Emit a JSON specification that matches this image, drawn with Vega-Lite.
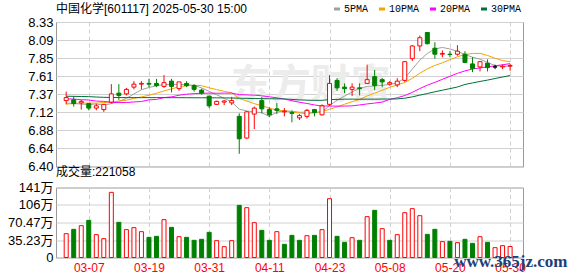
{
  "$schema": "https://vega.github.io/schema/vega-lite/v6.json",
  "padding": {"left": 5, "top": 2, "right": 5, "bottom": 0},
  "background": "#ffffff",
  "config": {
    "view": {"stroke": "#999999", "strokeWidth": 1},
    "font": "Liberation Sans, Noto Sans CJK SC",
    "axis": {"labelFont": "Liberation Sans, Noto Sans CJK SC", "labelFontSize": 13, "labelColor": "#000000", "domain": false, "ticks": false, "gridColor": "#d0d0d0", "gridWidth": 1, "title": null, "labelOverlap": false, "labelBound": false, "labelFlush": false, "tickCount": 30},
    "title": {"font": "Liberation Sans, Noto Sans CJK SC", "fontSize": 12, "fontWeight": "normal", "color": "#000000", "anchor": "start", "frame": "group"}
  },
  "datasets": {
    "one": [{"note": "watermark"}],
    "k": [
      {"i":0,"d":"03-04","o":7.28,"h":7.40,"l":7.23,"c":7.32,"v":48.0,"vd":"up","5PMA":7.247,"10PMA":7.234,"20PMA":7.304,"30PMA":7.338},
      {"i":1,"d":"03-05","o":7.29,"h":7.34,"l":7.20,"c":7.24,"v":56.7,"vd":"down","5PMA":7.241,"10PMA":7.241,"20PMA":7.300,"30PMA":7.337},
      {"i":2,"d":"03-06","o":7.25,"h":7.29,"l":7.16,"c":7.27,"v":64.1,"vd":"up","5PMA":7.234,"10PMA":7.247,"20PMA":7.292,"30PMA":7.335},
      {"i":3,"d":"03-07","o":7.24,"h":7.24,"l":7.15,"c":7.18,"v":74.8,"vd":"down","5PMA":7.227,"10PMA":7.247,"20PMA":7.288,"30PMA":7.333},
      {"i":4,"d":"03-10","o":7.18,"h":7.24,"l":7.15,"c":7.21,"v":46.0,"vd":"up","5PMA":7.235,"10PMA":7.247,"20PMA":7.274,"30PMA":7.328},
      {"i":5,"d":"03-11","o":7.16,"h":7.23,"l":7.13,"c":7.23,"v":37.9,"vd":"up","5PMA":7.218,"10PMA":7.254,"20PMA":7.270,"30PMA":7.324},
      {"i":6,"d":"03-12","o":7.26,"h":7.50,"l":7.24,"c":7.37,"v":131.2,"vd":"up","5PMA":7.240,"10PMA":7.261,"20PMA":7.258,"30PMA":7.322},
      {"i":7,"d":"03-13","o":7.38,"h":7.50,"l":7.29,"c":7.35,"v":70.8,"vd":"down","5PMA":7.268,"10PMA":7.274,"20PMA":7.254,"30PMA":7.321},
      {"i":8,"d":"03-14","o":7.37,"h":7.45,"l":7.35,"c":7.43,"v":56.1,"vd":"up","5PMA":7.310,"10PMA":7.285,"20PMA":7.254,"30PMA":7.320},
      {"i":9,"d":"03-17","o":7.46,"h":7.54,"l":7.43,"c":7.50,"v":60.1,"vd":"up","5PMA":7.370,"10PMA":7.310,"20PMA":7.262,"30PMA":7.320},
      {"i":10,"d":"03-18","o":7.50,"h":7.54,"l":7.43,"c":7.51,"v":52.0,"vd":"up","5PMA":7.425,"10PMA":7.329,"20PMA":7.268,"30PMA":7.320},
      {"i":11,"d":"03-19","o":7.51,"h":7.57,"l":7.46,"c":7.50,"v":40.6,"vd":"down","5PMA":7.455,"10PMA":7.352,"20PMA":7.290,"30PMA":7.320},
      {"i":12,"d":"03-20","o":7.51,"h":7.57,"l":7.46,"c":7.48,"v":42.6,"vd":"down","5PMA":7.478,"10PMA":7.378,"20PMA":7.296,"30PMA":7.320},
      {"i":13,"d":"03-21","o":7.47,"h":7.62,"l":7.45,"c":7.52,"v":76.2,"vd":"up","5PMA":7.495,"10PMA":7.410,"20PMA":7.320,"30PMA":7.320},
      {"i":14,"d":"03-24","o":7.54,"h":7.57,"l":7.39,"c":7.47,"v":60.7,"vd":"down","5PMA":7.494,"10PMA":7.436,"20PMA":7.330,"30PMA":7.319},
      {"i":15,"d":"03-25","o":7.44,"h":7.53,"l":7.41,"c":7.53,"v":41.9,"vd":"up","5PMA":7.497,"10PMA":7.466,"20PMA":7.352,"30PMA":7.319},
      {"i":16,"d":"03-26","o":7.51,"h":7.54,"l":7.46,"c":7.48,"v":40.6,"vd":"down","5PMA":7.492,"10PMA":7.477,"20PMA":7.366,"30PMA":7.319},
      {"i":17,"d":"03-27","o":7.48,"h":7.50,"l":7.40,"c":7.43,"v":34.6,"vd":"down","5PMA":7.483,"10PMA":7.485,"20PMA":7.373,"30PMA":7.318},
      {"i":18,"d":"03-28","o":7.42,"h":7.44,"l":7.36,"c":7.38,"v":36.6,"vd":"down","5PMA":7.450,"10PMA":7.480,"20PMA":7.378,"30PMA":7.318},
      {"i":19,"d":"03-31","o":7.34,"h":7.34,"l":7.18,"c":7.21,"v":50.7,"vd":"down","5PMA":7.404,"10PMA":7.451,"20PMA":7.380,"30PMA":7.318},
      {"i":20,"d":"04-01","o":7.23,"h":7.28,"l":7.22,"c":7.27,"v":33.9,"vd":"up","5PMA":7.358,"10PMA":7.427,"20PMA":7.378,"30PMA":7.317},
      {"i":21,"d":"04-02","o":7.26,"h":7.29,"l":7.22,"c":7.275,"v":21.8,"vd":"up","5PMA":7.310,"10PMA":7.404,"20PMA":7.380,"30PMA":7.316},
      {"i":22,"d":"04-03","o":7.25,"h":7.33,"l":7.22,"c":7.28,"v":33.9,"vd":"up","5PMA":7.262,"10PMA":7.384,"20PMA":7.380,"30PMA":7.315},
      {"i":23,"d":"04-07","o":7.07,"h":7.11,"l":6.57,"c":6.77,"v":105.0,"vd":"down","5PMA":7.166,"10PMA":7.309,"20PMA":7.360,"30PMA":7.312},
      {"i":24,"d":"04-08","o":6.78,"h":7.14,"l":6.77,"c":7.13,"v":100.3,"vd":"up","5PMA":7.142,"10PMA":7.275,"20PMA":7.356,"30PMA":7.310},
      {"i":25,"d":"04-09","o":7.10,"h":7.20,"l":6.90,"c":7.18,"v":70.1,"vd":"up","5PMA":7.130,"10PMA":7.240,"20PMA":7.353,"30PMA":7.308},
      {"i":26,"d":"04-10","o":7.28,"h":7.33,"l":7.11,"c":7.17,"v":54.7,"vd":"down","5PMA":7.117,"10PMA":7.211,"20PMA":7.344,"30PMA":7.306},
      {"i":27,"d":"04-11","o":7.16,"h":7.19,"l":7.06,"c":7.09,"v":34.6,"vd":"down","5PMA":7.069,"10PMA":7.180,"20PMA":7.331,"30PMA":7.305},
      {"i":28,"d":"04-14","o":7.17,"h":7.25,"l":7.10,"c":7.15,"v":52.0,"vd":"up","5PMA":7.127,"10PMA":7.154,"20PMA":7.317,"30PMA":7.304},
      {"i":29,"d":"04-15","o":7.13,"h":7.18,"l":7.07,"c":7.14,"v":26.5,"vd":"down","5PMA":7.142,"10PMA":7.145,"20PMA":7.300,"30PMA":7.303},
      {"i":30,"d":"04-16","o":7.12,"h":7.15,"l":6.99,"c":7.11,"v":44.6,"vd":"down","5PMA":7.137,"10PMA":7.130,"20PMA":7.279,"30PMA":7.296},
      {"i":31,"d":"04-17","o":7.05,"h":7.10,"l":7.02,"c":7.08,"v":34.6,"vd":"down","5PMA":7.124,"10PMA":7.115,"20PMA":7.258,"30PMA":7.290},
      {"i":32,"d":"04-18","o":7.07,"h":7.17,"l":7.04,"c":7.15,"v":43.9,"vd":"up","5PMA":7.126,"10PMA":7.105,"20PMA":7.242,"30PMA":7.286},
      {"i":33,"d":"04-21","o":7.16,"h":7.17,"l":7.07,"c":7.12,"v":44.6,"vd":"down","5PMA":7.118,"10PMA":7.120,"20PMA":7.222,"30PMA":7.284},
      {"i":34,"d":"04-22","o":7.09,"h":7.23,"l":7.08,"c":7.21,"v":56.0,"vd":"up","5PMA":7.127,"10PMA":7.135,"20PMA":7.209,"30PMA":7.284},
      {"i":35,"d":"04-23","o":7.23,"h":7.62,"l":7.21,"c":7.51,"v":118.4,"vd":"up","5PMA":7.214,"10PMA":7.165,"20PMA":7.208,"30PMA":7.294},
      {"i":36,"d":"04-24","o":7.55,"h":7.58,"l":7.41,"c":7.45,"v":42.6,"vd":"down","5PMA":7.285,"10PMA":7.195,"20PMA":7.206,"30PMA":7.296},
      {"i":37,"d":"04-25","o":7.46,"h":7.51,"l":7.38,"c":7.44,"v":30.5,"vd":"down","5PMA":7.340,"10PMA":7.232,"20PMA":7.207,"30PMA":7.299},
      {"i":38,"d":"04-28","o":7.43,"h":7.51,"l":7.34,"c":7.46,"v":39.9,"vd":"up","5PMA":7.395,"10PMA":7.265,"20PMA":7.210,"30PMA":7.300},
      {"i":39,"d":"04-29","o":7.45,"h":7.51,"l":7.35,"c":7.44,"v":34.6,"vd":"down","5PMA":7.445,"10PMA":7.297,"20PMA":7.222,"30PMA":7.298},
      {"i":40,"d":"04-30","o":7.51,"h":7.76,"l":7.51,"c":7.56,"v":82.2,"vd":"up","5PMA":7.470,"10PMA":7.342,"20PMA":7.236,"30PMA":7.300},
      {"i":41,"d":"05-06","o":7.60,"h":7.69,"l":7.42,"c":7.48,"v":95.0,"vd":"down","5PMA":7.475,"10PMA":7.380,"20PMA":7.247,"30PMA":7.299},
      {"i":42,"d":"05-07","o":7.56,"h":7.58,"l":7.46,"c":7.53,"v":58.0,"vd":"up","5PMA":7.484,"10PMA":7.418,"20PMA":7.260,"30PMA":7.301},
      {"i":43,"d":"05-08","o":7.50,"h":7.54,"l":7.48,"c":7.52,"v":34.6,"vd":"down","5PMA":7.495,"10PMA":7.458,"20PMA":7.297,"30PMA":7.301},
      {"i":44,"d":"05-09","o":7.49,"h":7.58,"l":7.46,"c":7.54,"v":46.0,"vd":"up","5PMA":7.518,"10PMA":7.490,"20PMA":7.318,"30PMA":7.303},
      {"i":45,"d":"05-12","o":7.55,"h":7.81,"l":7.53,"c":7.80,"v":90.2,"vd":"up","5PMA":7.580,"10PMA":7.522,"20PMA":7.348,"30PMA":7.312},
      {"i":46,"d":"05-13","o":7.84,"h":8.02,"l":7.81,"c":8.01,"v":98.3,"vd":"up","5PMA":7.700,"10PMA":7.578,"20PMA":7.390,"30PMA":7.330},
      {"i":47,"d":"05-14","o":8.01,"h":8.15,"l":7.94,"c":8.12,"v":84.2,"vd":"up","5PMA":7.820,"10PMA":7.646,"20PMA":7.441,"30PMA":7.353},
      {"i":48,"d":"05-15","o":8.19,"h":8.19,"l":8.03,"c":8.04,"v":46.6,"vd":"down","5PMA":7.910,"10PMA":7.704,"20PMA":7.486,"30PMA":7.375},
      {"i":49,"d":"05-16","o":7.98,"h":8.06,"l":7.84,"c":7.90,"v":56.7,"vd":"down","5PMA":7.970,"10PMA":7.750,"20PMA":7.524,"30PMA":7.398},
      {"i":50,"d":"05-19","o":7.90,"h":7.95,"l":7.86,"c":7.91,"v":31.9,"vd":"up","5PMA":7.990,"10PMA":7.785,"20PMA":7.564,"30PMA":7.419},
      {"i":51,"d":"05-20","o":7.90,"h":7.94,"l":7.86,"c":7.895,"v":32.5,"vd":"down","5PMA":7.970,"10PMA":7.827,"20PMA":7.604,"30PMA":7.440},
      {"i":52,"d":"05-21","o":7.90,"h":8.02,"l":7.88,"c":7.94,"v":29.9,"vd":"up","5PMA":7.938,"10PMA":7.866,"20PMA":7.644,"30PMA":7.462},
      {"i":53,"d":"05-22","o":7.90,"h":7.94,"l":7.78,"c":7.79,"v":36.6,"vd":"down","5PMA":7.896,"10PMA":7.895,"20PMA":7.677,"30PMA":7.496},
      {"i":54,"d":"05-23","o":7.77,"h":7.86,"l":7.66,"c":7.71,"v":28.5,"vd":"down","5PMA":7.860,"10PMA":7.910,"20PMA":7.702,"30PMA":7.516},
      {"i":55,"d":"05-26","o":7.73,"h":7.80,"l":7.67,"c":7.80,"v":41.9,"vd":"up","5PMA":7.833,"10PMA":7.911,"20PMA":7.717,"30PMA":7.536},
      {"i":56,"d":"05-27","o":7.78,"h":7.83,"l":7.67,"c":7.72,"v":30.5,"vd":"down","5PMA":7.789,"10PMA":7.883,"20PMA":7.730,"30PMA":7.554},
      {"i":57,"d":"05-28","o":7.73,"h":7.76,"l":7.70,"c":7.73,"v":19.8,"vd":"up","5PMA":7.748,"10PMA":7.846,"20PMA":7.745,"30PMA":7.575},
      {"i":58,"d":"05-29","o":7.73,"h":7.76,"l":7.70,"c":7.74,"v":23.8,"vd":"up","5PMA":7.736,"10PMA":7.815,"20PMA":7.759,"30PMA":7.595},
      {"i":59,"d":"05-30","o":7.74,"h":7.77,"l":7.68,"c":7.75,"v":22.1,"vd":"up","5PMA":7.740,"10PMA":7.800,"20PMA":7.774,"30PMA":7.615}
    ]
  },
  "vconcat": [
    {
      "width": 467,
      "height": 144.5,
      "title": {"text": "中国化学[601117] 2025-05-30 15:00", "offset": 0},
      "layer": [
        {
          "data": {"name": "one"},
          "mark": {"type": "text", "fontSize": 40, "fontWeight": "bold", "color": "#ececec"},
          "encoding": {
            "x": {"datum": 32.5, "type": "quantitative", "scale": {"domain": [-0.69, 60.05], "nice": false, "zero": false}},
            "y": {"datum": 7.48, "type": "quantitative"},
            "text": {"value": "东方财富"}
          }
        },
        {
          "data": {"name": "k"},
          "transform": [{"fold": ["5PMA", "10PMA", "20PMA", "30PMA"], "as": ["ma", "val"]}],
          "mark": {"type": "line", "strokeWidth": 1, "clip": true},
          "encoding": {
            "x": {"field": "i", "type": "quantitative"},
            "y": {"field": "val", "type": "quantitative"},
            "color": {
              "field": "ma", "type": "nominal",
              "scale": {"domain": ["5PMA", "10PMA", "20PMA", "30PMA"], "range": ["#a0a0a0", "#f5a300", "#ff00ff", "#00703c"]},
              "legend": {"title": null, "orient": "none", "legendX": 276, "legendY": -18, "direction": "horizontal", "symbolType": "stroke", "symbolStrokeWidth": 3, "symbolSize": 36, "labelFontSize": 10, "labelFont": "Liberation Mono", "labelColor": "#000000", "columnPadding": 4, "labelOffset": 2, "padding": 0}
            }
          }
        },
        {
          "data": {"name": "k"},
          "mark": {"type": "rule", "strokeWidth": 1},
          "encoding": {
            "x": {"field": "i", "type": "quantitative"},
            "y": {"field": "l", "type": "quantitative"},
            "y2": {"field": "h"},
            "color": {"condition": [{"test": "datum.c > datum.o", "value": "#ff0000"}, {"test": "datum.c < datum.o", "value": "#008000"}], "value": "#000000"}
          }
        },
        {
          "data": {"name": "k"},
          "mark": {"type": "bar", "width": 4, "strokeWidth": 1, "orient": "vertical"},
          "encoding": {
            "x": {"field": "i", "type": "quantitative", "axis": {"values": [3, 11, 19, 27, 35, 43, 51, 59], "tickCount": 30, "labels": false, "grid": true, "gridDash": [4, 3], "minExtent": 0, "maxExtent": 0}},
            "y": {"field": "o", "type": "quantitative", "scale": {"domain": [6.40, 8.33], "nice": false, "zero": false},
              "axis": {"values": [6.40, 6.64125, 6.8825, 7.12375, 7.365, 7.60625, 7.8475, 8.08875, 8.33], "tickCount": 30, "labelExpr": "format(datum.value + 0.0001, '.2f')", "grid": true, "labelPadding": 3, "minExtent": 50, "maxExtent": 50, "labelOverlap": false, "labelFlush": false}},
            "y2": {"field": "c"},
            "stroke": {"condition": [{"test": "datum.c > datum.o", "value": "#ff0000"}, {"test": "datum.c < datum.o", "value": "#008000"}], "value": "#000000"},
            "fill": {"condition": [{"test": "datum.c > datum.o", "value": "#ffffff"}, {"test": "datum.c < datum.o", "value": "#008000"}], "value": "#000000"}
          }
        }
      ]
    },
    {
      "width": 467,
      "height": 70,
      "title": {"text": "成交量:221058", "offset": 3},
      "layer": [
        {
          "data": {"name": "k"},
          "mark": {"type": "bar", "width": 4, "strokeWidth": 1, "orient": "vertical"},
          "encoding": {
            "x": {"field": "i", "type": "quantitative", "scale": {"domain": [-0.69, 60.05], "nice": false, "zero": false},
              "axis": {"values": [3, 11, 19, 27, 35, 43, 51, 59], "tickCount": 30, "labelExpr": "['03-07','03-19','03-31','04-11','04-23','05-08','05-20','05-30'][(datum.value - 3) / 8]", "labelColor": "#ff0000", "labelFontSize": 12, "labelPadding": 5, "grid": true, "gridDash": [4, 3], "labelOverlap": false, "labelFlush": false}},
            "y": {"field": "v", "type": "quantitative", "scale": {"domain": [0, 140.93], "nice": false},
              "axis": {"values": [0, 35.23, 70.47, 105.7, 140.93], "tickCount": 30, "labelExpr": "datum.value == 0 ? '0' : datum.value < 40 ? '35.23万' : datum.value < 80 ? '70.47万' : datum.value < 120 ? '106万' : '141万'", "grid": true, "labelPadding": 3, "minExtent": 50, "maxExtent": 50, "labelOverlap": false, "labelFlush": false}},
            "stroke": {"condition": {"test": "datum.vd == 'up'", "value": "#ff0000"}, "value": "#008000"},
            "fill": {"condition": {"test": "datum.vd == 'up'", "value": "#ffffff"}, "value": "#008000"}
          }
        },
        {
          "data": {"name": "one"},
          "mark": {"type": "text", "font": "Liberation Serif", "fontSize": 17, "fontWeight": "bold", "color": "#1c3f7c", "clip": false},
          "encoding": {
            "x": {"datum": 59.1, "type": "quantitative"},
            "y": {"datum": -10, "type": "quantitative"},
            "text": {"value": "www.365jz.com"}
          }
        }
      ]
    }
  ],
  "spacing": 20.5,
  "bounds": "flush"
}
